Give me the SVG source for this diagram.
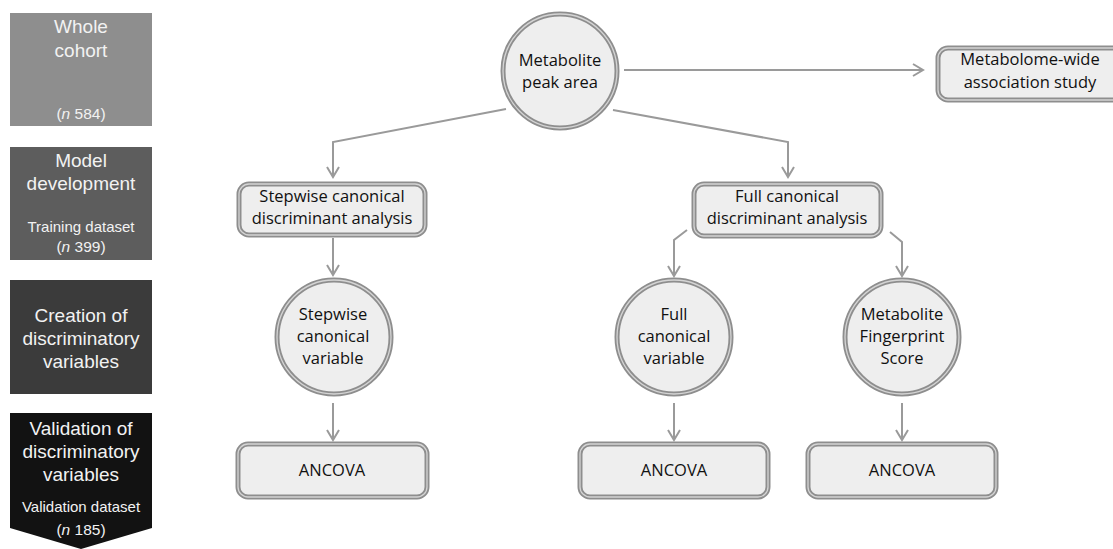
<svg xmlns="http://www.w3.org/2000/svg" width="1113" height="549" viewBox="0 0 1113 549">
<style>
.side{font-family:"Liberation Sans",Arial,sans-serif;fill:#f2f2f2;text-anchor:middle}
.big{font-size:19px}
.small{font-size:15px}
.n{font-size:15.5px}
.node{font-family:"Open Sans","Liberation Sans",sans-serif;font-size:16.5px;fill:#111;text-anchor:middle}
.shape{fill:#eeeeee;stroke:#8e8e8e;stroke-width:5}
.inner{fill:none;stroke:#d4d4d4;stroke-width:1.3}
.conn{fill:none;stroke:#9a9a9a;stroke-width:2}
</style>
<defs>
<marker id="arr" markerUnits="userSpaceOnUse" markerWidth="14" markerHeight="14" viewBox="-12 -7 14 14" refX="0" refY="0" orient="auto">
<path d="M-10,-6 L0,0 L-10,6" fill="none" stroke="#9a9a9a" stroke-width="2"/>
</marker>
</defs>
<rect width="1113" height="549" fill="#ffffff"/>

<g id="stage-whole-cohort">
<rect x="10" y="13" width="142" height="113" fill="#8e8e8e"/>
<text class="side big" x="81" y="33">Whole</text>
<text class="side big" x="81" y="57">cohort</text>
<text class="side n" x="81" y="119">(<tspan font-style="italic">n</tspan> 584)</text>
</g>
<g id="stage-model-development">
<rect x="10" y="147" width="142" height="113" fill="#5d5d5d"/>
<text class="side big" x="81" y="167">Model</text>
<text class="side big" x="81" y="190">development</text>
<text class="side small" x="81" y="232">Training dataset</text>
<text class="side n" x="81" y="252">(<tspan font-style="italic">n</tspan> 399)</text>
</g>
<g id="stage-creation">
<rect x="10" y="280" width="142" height="114" fill="#3b3b3b"/>
<text class="side big" x="81" y="322">Creation of</text>
<text class="side big" x="81" y="345">discriminatory</text>
<text class="side big" x="81" y="368">variables</text>
</g>
<g id="stage-validation">
<polygon points="10,413 152,413 152,528 81,549 10,528" fill="#121212"/>
<text class="side big" x="81" y="435">Validation of</text>
<text class="side big" x="81" y="458">discriminatory</text>
<text class="side big" x="81" y="481">variables</text>
<text class="side small" x="81" y="512">Validation dataset</text>
<text class="side n" x="81" y="535">(<tspan font-style="italic">n</tspan> 185)</text>
</g>

<g id="connectors">
<path class="conn" d="M624,70 L923,70" marker-end="url(#arr)"/>
<path class="conn" d="M506,109 L333,142 L333,177" marker-end="url(#arr)"/>
<path class="conn" d="M613,110 L788,142 L788,177" marker-end="url(#arr)"/>
<path class="conn" d="M333,238 L333,275" marker-end="url(#arr)"/>
<path class="conn" d="M687,230 L674,240 L674,276" marker-end="url(#arr)"/>
<path class="conn" d="M890,232 L902,242 L902,276" marker-end="url(#arr)"/>
<path class="conn" d="M333,403 L333,440" marker-end="url(#arr)"/>
<path class="conn" d="M674,403 L674,440" marker-end="url(#arr)"/>
<path class="conn" d="M902,403 L902,440" marker-end="url(#arr)"/>
</g>

<g id="metabolite-peak-area">
<circle class="shape" cx="560" cy="71" r="57"/>
<circle class="inner" cx="560" cy="71" r="57"/>
<text class="node" x="560" y="66">Metabolite</text>
<text class="node" x="560" y="88">peak area</text>
</g>
<g id="metabolome-wide">
<rect class="shape" x="938" y="48" width="190" height="52" rx="10"/>
<rect class="inner" x="938" y="48" width="190" height="52" rx="10"/>
<text class="node" x="1030" y="65" font-size="17">Metabolome-wide</text>
<text class="node" x="1030" y="88" font-size="17">association study</text>
</g>
<g id="stepwise-cda">
<rect class="shape" x="239" y="184" width="186" height="51" rx="10"/>
<rect class="inner" x="239" y="184" width="186" height="51" rx="10"/>
<text class="node" x="332" y="202">Stepwise canonical</text>
<text class="node" x="332" y="224">discriminant analysis</text>
</g>
<g id="full-cda">
<rect class="shape" x="694" y="184" width="187" height="52" rx="10"/>
<rect class="inner" x="694" y="184" width="187" height="52" rx="10"/>
<text class="node" x="787" y="202">Full canonical</text>
<text class="node" x="787" y="224">discriminant analysis</text>
</g>
<g id="stepwise-variable">
<circle class="shape" cx="334" cy="337" r="57"/>
<circle class="inner" cx="334" cy="337" r="57"/>
<text class="node" x="333" y="320">Stepwise</text>
<text class="node" x="333" y="342">canonical</text>
<text class="node" x="333" y="364">variable</text>
</g>
<g id="full-variable">
<circle class="shape" cx="674" cy="337" r="57"/>
<circle class="inner" cx="674" cy="337" r="57"/>
<text class="node" x="674" y="320">Full</text>
<text class="node" x="674" y="342">canonical</text>
<text class="node" x="674" y="364">variable</text>
</g>
<g id="fingerprint-score">
<circle class="shape" cx="902" cy="337" r="57"/>
<circle class="inner" cx="902" cy="337" r="57"/>
<text class="node" x="902" y="320">Metabolite</text>
<text class="node" x="902" y="342">Fingerprint</text>
<text class="node" x="902" y="364">Score</text>
</g>
<g id="ancova-stepwise">
<rect class="shape" x="238" y="444" width="189" height="53" rx="10"/>
<rect class="inner" x="238" y="444" width="189" height="53" rx="10"/>
<text class="node" x="332" y="476">ANCOVA</text>
</g>
<g id="ancova-full">
<rect class="shape" x="580" y="444" width="188" height="53" rx="10"/>
<rect class="inner" x="580" y="444" width="188" height="53" rx="10"/>
<text class="node" x="674" y="476">ANCOVA</text>
</g>
<g id="ancova-fingerprint">
<rect class="shape" x="808" y="444" width="188" height="53" rx="10"/>
<rect class="inner" x="808" y="444" width="188" height="53" rx="10"/>
<text class="node" x="902" y="476">ANCOVA</text>
</g>
</svg>
